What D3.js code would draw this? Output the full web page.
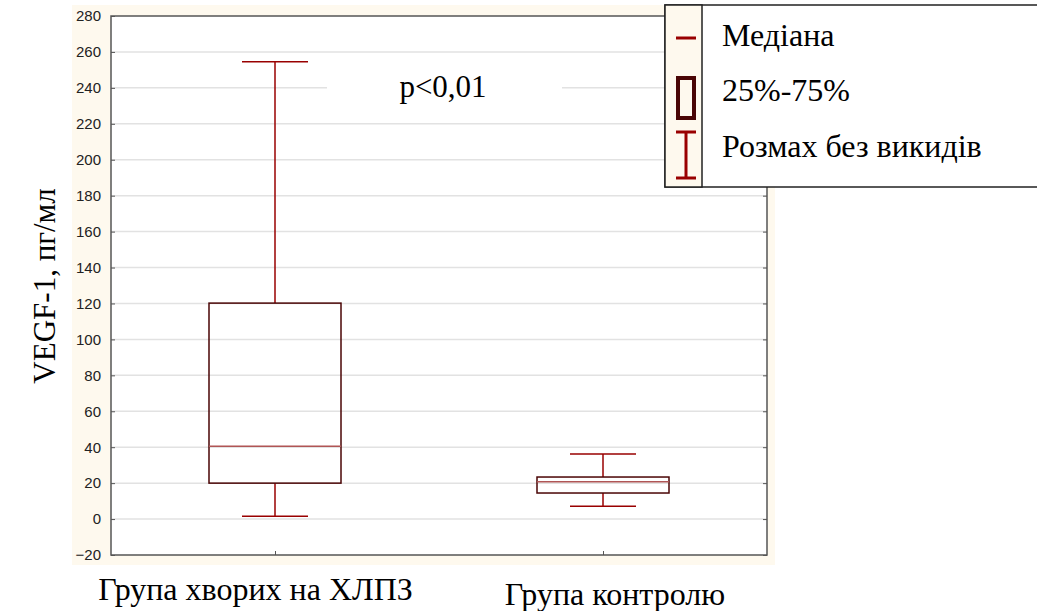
<!DOCTYPE html>
<html>
<head>
<meta charset="utf-8">
<script src="https://cdn.jsdelivr.net/npm/d3@7"></script>
<style>
  body { margin: 0; background: #fff; }
  svg { display: block; }
  .serif { font-family: 'Liberation Serif', 'Times New Roman', serif; }
  .sans { font-family: 'Liberation Sans', Arial, sans-serif; }
</style>
</head>
<body>
<svg id="chart" width="1037" height="611"></svg>
<script>
// values
const groups = ['Група хворих на ХЛПЗ', 'Група контролю'];
const whiskerLow = [1.5, 7.2];
const q1 = [20, 14.5];
const median = [40.5, 20.8];
const q3 = [120.2, 23.4];
const whiskerHigh = [254.5, 36.2];
const yTicks = [-20, 0, 20, 40, 60, 80, 100, 120, 140, 160, 180, 200, 220, 240, 260, 280];
const legendLabels = ['Медіана', '25%-75%', 'Розмах без викидів'];

const width = 1037;
const height = 611;
const margin = ({ top: 16, right: 270, bottom: 56, left: 111 });

const red = '#990000';
const boxColor = '#4a0505';
const medianColor = '#b05555';
const axisColor = '#555';

const svg = d3.select('#chart');

const x = d3.scalePoint()
  .domain(groups)
  .range([margin.left, width - margin.right])
  .padding(0.5);

const y = d3.scaleLinear()
  .domain([-20, 280])
  .range([height - margin.bottom, margin.top]);

// cream backdrop of the plot panel
svg.append('rect')
  .attr('x', 72).attr('y', 5)
  .attr('width', 703).attr('height', 560)
  .attr('fill', '#fef9ee');

svg.append('rect')
  .attr('x', margin.left).attr('y', margin.top)
  .attr('width', width - margin.right - margin.left)
  .attr('height', y(-20) - y(280))
  .attr('fill', '#fff');

// gridlines
svg.append('g')
  .selectAll('line')
  .data(yTicks.slice(1, -1))
  .join('line')
  .attr('x1', margin.left).attr('x2', width - margin.right)
  .attr('y1', d => y(d)).attr('y2', d => y(d))
  .attr('stroke', '#e2e2e2')
  .attr('stroke-width', 1.5);

// p value with its white patch
svg.append('rect')
  .attr('x', 327).attr('y', 70)
  .attr('width', 235).attr('height', 36)
  .attr('fill', '#fff');

svg.append('text')
  .attr('class', 'serif')
  .attr('x', 443).attr('y', 97)
  .attr('text-anchor', 'middle')
  .attr('font-size', 31)
  .text('p<0,01');

// axes
const yAxis = g => g
  .attr('transform', `translate(${margin.left},0)`)
  .call(d3.axisLeft(y).tickValues(yTicks).tickSize(-4).tickPadding(10).tickFormat(d3.format('d')))
  .call(g => g.select('.domain').remove())
  .call(g => g.selectAll('line').attr('stroke', axisColor))
  .call(g => g.selectAll('text')
    .attr('class', 'sans')
    .attr('font-size', 15)
    .attr('fill', '#222'));

svg.append('g').call(yAxis);

svg.append('g')
  .attr('transform', `translate(${width - margin.right},0)`)
  .call(d3.axisRight(y).tickValues(yTicks).tickSize(-4).tickFormat(''))
  .call(g => g.select('.domain').remove())
  .call(g => g.selectAll('line').attr('stroke', axisColor));

svg.append('g')
  .attr('transform', `translate(0,${y(-20)})`)
  .call(d3.axisBottom(x).tickSize(-4).tickFormat(''))
  .call(g => g.select('.domain').remove())
  .call(g => g.selectAll('line').attr('stroke', axisColor));

svg.append('rect')
  .attr('x', margin.left).attr('y', margin.top)
  .attr('width', width - margin.right - margin.left)
  .attr('height', y(-20) - y(280))
  .attr('fill', 'none')
  .attr('stroke', axisColor)
  .attr('stroke-width', 1.5);

// boxes
const boxW = 132;
const rows = groups.map((g, i) => ({
  g, lo: whiskerLow[i], q1: q1[i], med: median[i], q3: q3[i], hi: whiskerHigh[i],
}));

const box = svg.append('g')
  .selectAll('g')
  .data(rows)
  .join('g')
  .attr('transform', d => `translate(${x(d.g)},0)`);

box.append('line')
  .attr('y1', d => y(d.hi)).attr('y2', d => y(d.q3))
  .attr('stroke', red).attr('stroke-width', 1.5);

box.append('line')
  .attr('y1', d => y(d.q1)).attr('y2', d => y(d.lo))
  .attr('stroke', red).attr('stroke-width', 1.5);

box.selectAll('.cap')
  .data(d => [d.lo, d.hi])
  .join('line')
  .attr('class', 'cap')
  .attr('x1', -boxW / 4).attr('x2', boxW / 4)
  .attr('y1', d => y(d)).attr('y2', d => y(d))
  .attr('stroke', red).attr('stroke-width', 1.5);

box.append('rect')
  .attr('x', -boxW / 2).attr('width', boxW)
  .attr('y', d => y(d.q3))
  .attr('height', d => y(d.q1) - y(d.q3))
  .attr('fill', 'none')
  .attr('stroke', boxColor).attr('stroke-width', 1.5);

box.append('line')
  .attr('x1', -boxW / 2).attr('x2', boxW / 2)
  .attr('y1', d => y(d.med)).attr('y2', d => y(d.med))
  .attr('stroke', medianColor).attr('stroke-width', 1.5);

// axis titles
svg.append('text')
  .attr('class', 'serif')
  .attr('transform', 'translate(55,286) rotate(-90)')
  .attr('text-anchor', 'middle')
  .attr('font-size', 31)
  .text('VEGF-1, пг/мл');

svg.append('text')
  .attr('class', 'serif')
  .attr('x', 255.5).attr('y', 600)
  .attr('text-anchor', 'middle')
  .attr('font-size', 32)
  .text(groups[0]);

svg.append('text')
  .attr('class', 'serif')
  .attr('x', 615).attr('y', 605)
  .attr('text-anchor', 'middle')
  .attr('font-size', 32)
  .text(groups[1]);

// legend
const legend = svg.append('g').attr('transform', 'translate(665,5)');

legend.append('rect')
  .attr('width', 380).attr('height', 182)
  .attr('fill', '#fff')
  .attr('stroke', '#222').attr('stroke-width', 1.5);

legend.append('rect')
  .attr('width', 37).attr('height', 182)
  .attr('fill', '#fef9ee')
  .attr('stroke', '#222').attr('stroke-width', 1.5);

legend.append('line')
  .attr('x1', 11).attr('x2', 31).attr('y1', 33).attr('y2', 33)
  .attr('stroke', red).attr('stroke-width', 3);

legend.append('rect')
  .attr('x', 13).attr('y', 73).attr('width', 16).attr('height', 40)
  .attr('fill', 'none')
  .attr('stroke', boxColor).attr('stroke-width', 4);

legend.append('path')
  .attr('d', 'M11,127H31M21,127V173M11,173H31')
  .attr('fill', 'none')
  .attr('stroke', red).attr('stroke-width', 3);

legend.selectAll('.lbl')
  .data(legendLabels)
  .join('text')
  .attr('class', 'lbl serif')
  .attr('x', 57)
  .attr('y', (d, i) => [41, 96, 152][i])
  .attr('font-size', 32)
  .text(d => d);
</script>
</body>
</html>
